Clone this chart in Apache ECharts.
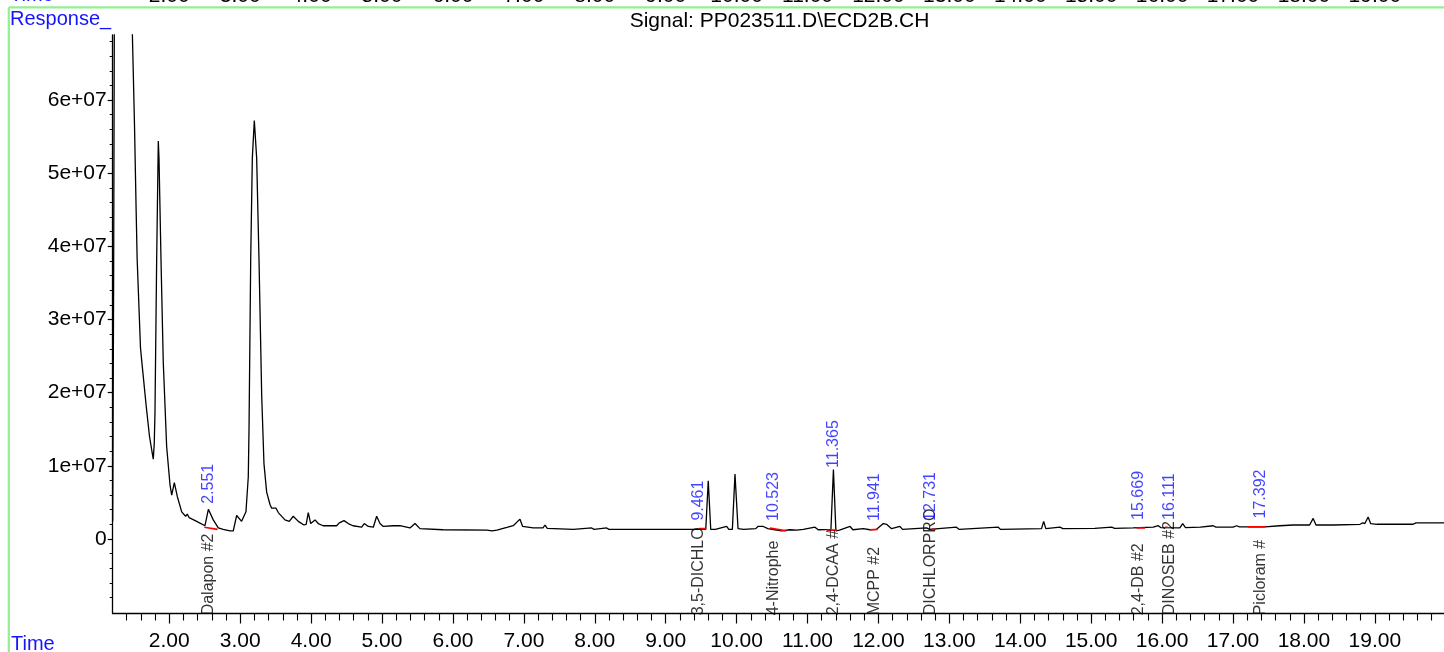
<!DOCTYPE html>
<html><head><meta charset="utf-8">
<script src="https://cdn.jsdelivr.net/npm/echarts@6/dist/echarts.min.js"></script>
<style>html,body{margin:0;padding:0;background:#fff}#c{width:1444px;height:652px}</style>
</head><body><div id="c"></div>
<script>
// Retention time (min)
const times = [1.202,1.215,1.226,1.25,1.32,1.40,1.46,1.477,1.509,1.533,1.547,1.594,1.618,1.674,1.721,1.755,1.774,1.788,1.798,1.822,1.845,1.855,1.883,1.915,1.963,2.010,2.034,2.071,2.113,2.175,2.230,2.254,2.28,2.386,2.503,2.551,2.62,2.691,2.76,2.856,2.902,2.95,3.02,3.081,3.114,3.124,3.148,3.171,3.199,3.232,3.265,3.303,3.335,3.373,3.42,3.444,3.47,3.505,3.537,3.631,3.692,3.748,3.819,3.899,3.93,3.96,3.994,4.055,4.10,4.17,4.36,4.397,4.463,4.524,4.59,4.713,4.75,4.806,4.877,4.924,4.971,5.017,5.158,5.253,5.394,5.465,5.535,5.86,6.48,6.55,6.62,6.76,6.85,6.945,6.983,7.13,7.27,7.298,7.33,7.70,7.956,7.99,8.167,8.20,9.40,9.565,9.60,9.635,9.70,9.86,9.89,9.94,9.977,10.02,10.10,10.27,10.30,10.376,10.44,10.54,10.635,10.75,10.85,10.94,11.105,11.15,11.33,11.365,11.40,11.45,11.60,11.64,11.786,11.88,11.97,12.068,12.115,12.185,12.303,12.34,12.68,12.72,13.10,13.14,13.69,13.72,14.30,14.33,14.36,14.56,14.60,15.05,15.29,15.33,15.59,15.875,15.946,15.98,16.25,16.29,16.33,16.54,16.72,16.76,17.00,17.05,17.09,17.45,17.66,17.85,18.08,18.13,18.17,18.42,18.79,18.83,18.86,18.905,18.94,19.03,19.54,19.58,19.975];
// Response (x 1e7)
const response = [0.24,3.5,7.5,13,17,15,10,7.0,5.68,4.47,3.82,2.61,2.37,1.82,1.40,1.2,1.09,1.3,1.72,3.82,5.44,5.2,3.82,2.42,1.26,0.74,0.60,0.77,0.58,0.37,0.31,0.34,0.29,0.24,0.18,0.405,0.26,0.15,0.13,0.11,0.11,0.32,0.24,0.37,0.85,1.49,3.82,5.21,5.72,5.21,3.82,1.96,1.03,0.64,0.47,0.42,0.40,0.42,0.36,0.26,0.24,0.31,0.24,0.19,0.20,0.36,0.21,0.26,0.21,0.18,0.18,0.22,0.25,0.21,0.18,0.16,0.21,0.17,0.16,0.31,0.21,0.17,0.18,0.18,0.15,0.21,0.14,0.125,0.12,0.11,0.12,0.156,0.18,0.27,0.17,0.15,0.15,0.19,0.145,0.13,0.15,0.13,0.15,0.13,0.13,0.13,0.795,0.13,0.13,0.17,0.13,0.13,0.886,0.14,0.13,0.14,0.17,0.17,0.14,0.125,0.11,0.125,0.12,0.13,0.16,0.125,0.13,0.95,0.11,0.12,0.17,0.125,0.14,0.125,0.13,0.21,0.20,0.14,0.17,0.13,0.15,0.13,0.16,0.13,0.16,0.13,0.14,0.24,0.14,0.16,0.14,0.145,0.16,0.145,0.15,0.16,0.18,0.155,0.15,0.21,0.155,0.16,0.18,0.16,0.16,0.18,0.165,0.165,0.18,0.19,0.19,0.28,0.19,0.19,0.20,0.22,0.21,0.30,0.21,0.20,0.20,0.22,0.22];

// Integration baselines: start time, start response, end time, end response
const intStartT = [2.494, 9.47, 10.47, 11.27, 11.88, 12.75, 15.64, 16.04, 17.21];
const intStartV = [0.16, 0.14, 0.15, 0.12, 0.125, 0.13, 0.15, 0.16, 0.165];
const intEndT   = [2.68, 9.57, 10.70, 11.41, 11.99, 12.81, 15.76, 16.08, 17.45];
const intEndV   = [0.13, 0.14, 0.11, 0.12, 0.13, 0.13, 0.15, 0.16, 0.165];

// Peak annotations
const peakRT = [2.551, 9.461, 10.523, 11.365, 11.941, 12.731, 15.669, 16.111, 17.392];
const peakRTText = ['2.551','9.461','10.523','11.365','11.941','12.731','15.669','16.111','17.392'];
const peakLabelLevel = [0.48, 0.25, 0.245, 0.97, 0.245, 0.245, 0.26, 0.26, 0.28];
const compoundNames = ['Dalapon #2','3,5-DICHLO','4-Nitrophe','2,4-DCAA #','MCPP #2','DICHLORPRO','2,4-DB #2','DINOSEB #2','Picloram #'];

// Axis ticks
const xTickValues = [2,3,4,5,6,7,8,9,10,11,12,13,14,15,16,17,18,19];
const xTickLabels = ['2.00','3.00','4.00','5.00','6.00','7.00','8.00','9.00','10.00','11.00','12.00','13.00','14.00','15.00','16.00','17.00','18.00','19.00'];
const yTickValues = [0,1,2,3,4,5,6];
const yTickLabels = ['0','1e+07','2e+07','3e+07','4e+07','5e+07','6e+07'];

const X_MIN = 1.202, X_MAX = 19.975, Y_MIN = -1.02, Y_MAX = 6.89;
const FONT = "'Liberation Sans', Arial, sans-serif";
const BLUE = '#1414ff';

const xMinor = [], yMinor = [];
for (let k = 6; k <= 99; k++) { const v = +(k * 0.2).toFixed(1); if (Math.abs(v - Math.round(v)) > 1e-6) xMinor.push(v); }
for (let k = -5; k <= 34; k++) { const v = +(k * 0.2).toFixed(1); if (Math.abs(v - Math.round(v)) > 1e-6) yMinor.push(v); }

const xLabelMap = {}; xTickValues.forEach((v, i) => xLabelMap[v] = xTickLabels[i]);
const yLabelMap = {}; yTickValues.forEach((v, i) => yLabelMap[v] = yTickLabels[i]);

const chart = echarts.init(document.getElementById('c'), null, {renderer: 'canvas'});

const signalData = times.map((t, i) => [t, response[i]]);

const intSeries = intStartT.map((t0, i) => ({
  type: 'line', xAxisIndex: 0, yAxisIndex: 0, silent: true, showSymbol: false, symbol: 'none',
  data: [[t0, intStartV[i]], [intEndT[i], intEndV[i]]],
  lineStyle: {color: '#ff0000', width: 1.6}, z: 3, animation: false
}));

const labelCommon = {
  show: true, position: 'inside', rotate: 90, align: 'left', verticalAlign: 'middle',
  fontFamily: FONT, fontSize: 16
};

const option = {
  animation: false,
  backgroundColor: '#fff',
  grid: [
    {left: 112.7, right: 0, top: 35, bottom: 34.5, containLabel: false},
    {left: 112.7, right: 0, top: -40, height: 20, containLabel: false}
  ],
  xAxis: [
    {type: 'value', gridIndex: 0, min: X_MIN, max: X_MAX, position: 'bottom',
     axisLine: {show: true, onZero: false, lineStyle: {color: '#000', width: 1.3}},
     axisTick: {show: true, customValues: xTickValues, length: 10, lineStyle: {color: '#000', width: 1.2}},
     axisLabel: {show: true, customValues: xTickValues, formatter: v => xLabelMap[Math.round(v)] || '',
       fontFamily: FONT, fontSize: 21, color: '#000', verticalAlign: 'middle', margin: 28},
     splitLine: {show: false}},
    {type: 'value', gridIndex: 0, min: X_MIN, max: X_MAX, position: 'bottom',
     axisLine: {show: false, onZero: false},
     axisTick: {show: true, customValues: xMinor, length: 7, lineStyle: {color: '#000', width: 1.1}},
     axisLabel: {show: false}, splitLine: {show: false}},
    {type: 'value', gridIndex: 1, min: X_MIN, max: X_MAX, position: 'bottom',
     axisLine: {show: false, onZero: false}, axisTick: {show: false},
     axisLabel: {show: true, customValues: xTickValues, formatter: v => xLabelMap[Math.round(v)] || '',
       fontFamily: FONT, fontSize: 21, color: '#000', verticalAlign: 'middle', margin: 10.8},
     splitLine: {show: false}}
  ],
  yAxis: [
    {type: 'value', gridIndex: 0, min: Y_MIN, max: Y_MAX, position: 'left',
     axisLine: {show: true, onZero: false, lineStyle: {color: '#000', width: 1.3}},
     axisTick: {show: true, customValues: yTickValues, length: 5, lineStyle: {color: '#000', width: 1.2}},
     axisLabel: {show: true, customValues: yTickValues, formatter: v => yLabelMap[Math.round(v)] || '',
       fontFamily: FONT, fontSize: 21, color: '#000', margin: 6},
     splitLine: {show: false}},
    {type: 'value', gridIndex: 0, min: Y_MIN, max: Y_MAX, position: 'left',
     axisLine: {show: false, onZero: false},
     axisTick: {show: true, customValues: yMinor, length: 3, lineStyle: {color: '#000', width: 1}},
     axisLabel: {show: false}, splitLine: {show: false}},
    {type: 'value', gridIndex: 1, show: false, min: 0, max: 1}
  ],
  graphic: [
    {type: 'line', shape: {x1: 8.8, y1: 7.3, x2: 1444, y2: 7.3}, style: {stroke: '#93ef93', lineWidth: 2.2}, silent: true},
    {type: 'line', shape: {x1: 8.8, y1: 7.3, x2: 8.8, y2: 652}, style: {stroke: '#93ef93', lineWidth: 2.2}, silent: true},
    {type: 'text', style: {text: 'Time', x: 10, y: -5, font: '20px ' + FONT, fill: BLUE, verticalAlign: 'middle', align: 'left'}, silent: true},
    {type: 'text', style: {text: 'Response_', x: 10, y: 19.7, font: '20px ' + FONT, fill: BLUE, verticalAlign: 'middle', align: 'left'}, silent: true},
    {type: 'text', style: {text: 'Signal: PP023511.D\\ECD2B.CH', x: 779.5, y: 21.3, font: '21px ' + FONT, fill: '#000', verticalAlign: 'middle', align: 'center'}, silent: true},
    {type: 'text', style: {text: 'Time', x: 11, y: 644, font: '20px ' + FONT, fill: BLUE, verticalAlign: 'middle', align: 'left'}, silent: true}
  ],
  series: [
    {type: 'line', name: 'ECD2B', xAxisIndex: 0, yAxisIndex: 0, data: signalData, showSymbol: false, symbol: 'none',
     clip: true, lineStyle: {color: '#000', width: 1.3}, z: 2, silent: true},
    ...intSeries,
    {type: 'scatter', xAxisIndex: 0, yAxisIndex: 0, clip: false, symbolSize: 0.1, silent: true, z: 5,
     itemStyle: {color: 'rgba(0,0,0,0)'},
     data: peakRT.map((t, i) => ({value: [t, peakLabelLevel[i]], label: {formatter: peakRTText[i]}})),
     label: Object.assign({}, labelCommon, {color: BLUE})},
    {type: 'scatter', xAxisIndex: 0, yAxisIndex: 0, clip: false, symbolSize: 0.1, silent: true, z: 4,
     itemStyle: {color: 'rgba(0,0,0,0)'},
     data: peakRT.map((t, i) => ({value: [t, Y_MIN - 0.025], label: {formatter: compoundNames[i]}})),
     label: Object.assign({}, labelCommon, {color: '#000'})}
  ]
};
chart.setOption(option);
</script>
</body></html>
